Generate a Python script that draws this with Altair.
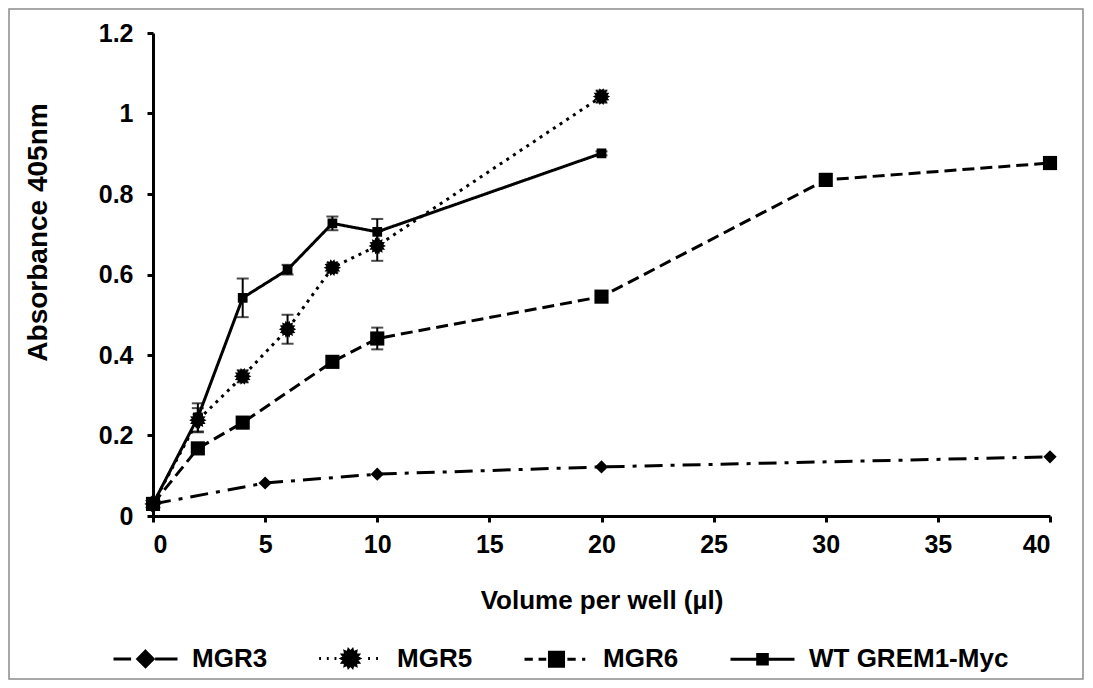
import math
import altair as alt
import pandas as pd

# ---- data ----
series_names = ["MGR3", "MGR5", "MGR6", "WT GREM1-Myc"]

x_mgr3 = [0, 5, 10, 20, 40]
y_mgr3 = [0.03, 0.082, 0.104, 0.122, 0.147]
e_mgr3 = [0.0, 0.0, 0.0, 0.0, 0.0]

x_mgr5 = [0, 2, 4, 6, 8, 10, 20]
y_mgr5 = [0.03, 0.238, 0.347, 0.464, 0.617, 0.671, 1.042]
e_mgr5 = [0.0, 0.03, 0.015, 0.036, 0.012, 0.037, 0.015]

x_mgr6 = [0, 2, 4, 8, 10, 20, 30, 40]
y_mgr6 = [0.03, 0.168, 0.232, 0.383, 0.441, 0.545, 0.835, 0.877]
e_mgr6 = [0.0, 0.012, 0.012, 0.012, 0.027, 0.012, 0.015, 0.015]

x_wt = [0, 2, 4, 6, 8, 10, 20]
y_wt = [0.03, 0.245, 0.542, 0.612, 0.727, 0.706, 0.901]
e_wt = [0.0, 0.035, 0.048, 0.012, 0.017, 0.032, 0.005]

x_ticks = [0, 5, 10, 15, 20, 25, 30, 35, 40]
y_ticks = [0, 0.2, 0.4, 0.6, 0.8, 1.0, 1.2]

rows = []
for name, xs, ys, es in [
    ("MGR3", x_mgr3, y_mgr3, e_mgr3),
    ("MGR5", x_mgr5, y_mgr5, e_mgr5),
    ("MGR6", x_mgr6, y_mgr6, e_mgr6),
    ("WT GREM1-Myc", x_wt, y_wt, e_wt),
]:
    for xv, yv, ev in zip(xs, ys, es):
        rows.append({"series": name, "vol": xv, "abs": yv, "err": ev,
                     "lo": yv - ev, "hi": yv + ev})
df = pd.DataFrame(rows)

# ---- styles ----
FONT = "Liberation Sans"
W, H = 897, 483


def star(scale=1.0, n=14, inner=0.72):
    pts = []
    for i in range(2 * n):
        r = scale if i % 2 == 0 else scale * inner
        a = math.pi * i / n
        pts.append(f"{r*math.cos(a):.3f},{r*math.sin(a):.3f}")
    return "M" + "L".join(pts) + "Z"


def sq(h):
    return f"M{-h},{-h}L{h},{-h}L{h},{h}L{-h},{h}Z"


def seg(a, b):
    return f"M{a},0L{b},0"


marker_style = {
    "MGR3": dict(shape="diamond", size=175),
    "MGR5": dict(shape=star(), size=300),
    "MGR6": dict(shape="square", size=200),
    "WT GREM1-Myc": dict(shape="square", size=95),
}
dash_range = [[18, 8, 4, 8], [3, 5], [12, 6], [1, 0]]

# legend symbols: line pattern + marker in one path
legend_paths = [
    seg(-1, -0.45) + seg(0.3, 1) + "M0,-0.24L0.24,0L0,0.24L-0.24,0Z",
    seg(-0.98, -0.92) + seg(-0.74, -0.68) + seg(-0.5, -0.44) + star(0.27)
    + seg(0.55, 0.61) + seg(0.8, 0.86),
    seg(-1, -0.74) + seg(-0.56, -0.32) + sq(0.22) + seg(0.34, 0.6) + seg(0.8, 0.9),
    seg(-1, 1) + sq(0.15),
]

xscale = alt.Scale(domain=[0, 40], nice=False, zero=False)
yscale = alt.Scale(domain=[0, 1.2], nice=False)

base = alt.Chart(df)

lines = base.mark_line(color="black", strokeWidth=3).encode(
    x=alt.X("vol:Q", scale=xscale,
            axis=alt.Axis(values=x_ticks, title="Volume per well (µl)", titlePadding=30)),
    y=alt.Y("abs:Q", scale=yscale,
            axis=alt.Axis(values=y_ticks, format="~g", title="Absorbance 405nm",
                          titleX=-115, titleY=199, titleAngle=-90, titleAlign="center",
                          titleBaseline="middle", titleFontSize=28, labelPadding=14)),
    strokeDash=alt.StrokeDash("series:N", scale=alt.Scale(domain=series_names, range=dash_range),
                              legend=None),
    detail="series:N",
)

err_base = base.transform_filter("datum.err > 0")
err_rule = err_base.mark_rule(color="black", strokeWidth=2).encode(
    x="vol:Q", y="lo:Q", y2="hi:Q")
cap_hi = err_base.mark_tick(color="black", orient="horizontal", size=12, thickness=2).encode(
    x="vol:Q", y="hi:Q")
cap_lo = err_base.mark_tick(color="black", orient="horizontal", size=12, thickness=2).encode(
    x="vol:Q", y="lo:Q")

point_layers = []
for name in series_names:
    st = marker_style[name]
    point_layers.append(
        base.transform_filter(alt.datum.series == name).mark_point(
            filled=True, color="black", opacity=1, shape=st["shape"], size=st["size"]
        ).encode(x="vol:Q", y="abs:Q")
    )

# helper layer that only feeds the legend: its marks are pushed out of the clipped plot
legend_layer = base.transform_calculate(leg="datum.series").mark_point(
    filled=True, fill="black", stroke="black", strokeWidth=3, size=4096, opacity=1,
    clip=True, yOffset=5000,
).encode(
    x="vol:Q", y="abs:Q",
    shape=alt.Shape(
        "leg:N",
        scale=alt.Scale(domain=series_names, range=legend_paths),
        legend=alt.Legend(
            orient="none", legendX=-41, legendY=592, direction="horizontal", title=None,
            symbolSize=4096, symbolStrokeWidth=3,
            labelFont=FONT, labelFontSize=26, labelFontWeight="bold", labelColor="black",
            labelOffset=13, columnPadding=45, padding=0, labelLimit=400,
        ),
    ),
)

frame = alt.Chart(alt.Data(values=[{"a": 1}])).mark_rect(
    filled=False, stroke="#8c8c8c", strokeWidth=1.5
).encode(
    x=alt.value(-144), x2=alt.value(W + 33), y=alt.value(-24), y2=alt.value(H + 163)
)

chart = alt.layer(
    frame, lines, err_rule, cap_hi, cap_lo, *point_layers, legend_layer
).resolve_scale(shape="independent").properties(
    width=W, height=H,
    autosize=alt.AutoSizeParams(type="none"),
    padding={"left": 145, "top": 25, "right": 35, "bottom": 164},
).configure_view(stroke=None).configure_axis(
    grid=False,
    domainColor="black", domainWidth=3,
    tickColor="black", tickWidth=3, tickSize=6,
    labelFont=FONT, labelFontSize=25, labelFontWeight="bold", labelColor="black",
    labelPadding=10,
    titleFont=FONT, titleFontSize=26, titleFontWeight="bold", titleColor="black",
)

chart.save("out.html", embed_options={"renderer": "svg", "actions": False})
